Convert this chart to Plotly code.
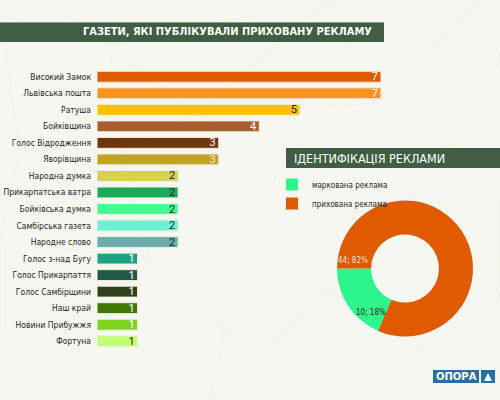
import plotly.graph_objects as go

# --- data ---------------------------------------------------------------
newspapers = ["Високий Замок", "Львівська пошта", "Ратуша", "Бойківщина",
              "Голос Відродження", "Яворівщина", "Народна думка",
              "Прикарпатська ватра", "Бойківська думка", "Самбірська газета",
              "Народне слово", "Голос з-над Бугу", "Голос Прикарпаття",
              "Голос Самбірщини", "Наш край", "Новини Прибужжя", "Фортуна"]
counts = [7, 7, 5, 4, 3, 3, 2, 2, 2, 2, 2, 1, 1, 1, 1, 1, 1]
bar_colors = ["#e05a00", "#ff9220", "#ffc000", "#a85e2c", "#70350b",
              "#c2a224", "#d8d052", "#16aa5a", "#40ff92", "#6af2d2",
              "#6cacac", "#1fa283", "#205848", "#30401a", "#407808",
              "#80d222", "#c2ff72"]
label_colors = ["#ffffff", "#ffffff", "#222222", "#ffffff", "#ffffff",
                "#f4ecd0", "#222222", "#222222", "#222222", "#222222",
                "#222222", "#ffffff", "#ffffff", "#ffffff", "#ffffff",
                "#ffffff", "#222222"]

ad_types = ["маркована реклама", "прихована реклама"]
ad_counts = [10, 44]
ad_pct = ["18%", "82%"]
ad_colors = ["#2cf58c", "#e05a00"]

W, H = 500, 400
NARROW = "DejaVu Sans Condensed, Liberation Sans, sans-serif"


def px(x):
    return x / W


def py(y):
    return 1 - y / H


fig = go.Figure()

fig.add_trace(go.Bar(
    x=counts, y=newspapers, orientation="h",
    marker=dict(color=bar_colors, line=dict(color="#efeedd", width=1)),
    text=counts, texttemplate="%{x}", textposition="inside",
    insidetextanchor="end", textangle=0, constraintext="none",
    textfont=dict(family="Roboto", size=11, color=label_colors),
    width=0.66, showlegend=False, hoverinfo="skip",
))

# green slice runs from 9 o'clock down towards 7 o'clock
fig.add_trace(go.Pie(
    labels=ad_types, values=ad_counts, hole=0.5, sort=False,
    direction="clockwise", rotation=203.3,
    marker=dict(colors=ad_colors), textinfo="none",
    domain=dict(x=[px(337), px(473)], y=[py(337), py(200)]),
))

# pie value labels
for val, pct, xx, yy, col in zip(ad_counts, ad_pct, [371, 353], [312, 260],
                                 ["#12301c", "#f6e2d2"]):
    fig.add_annotation(x=px(xx), y=py(yy), xref="paper", yref="paper",
                       xanchor="center", yanchor="middle",
                       text=f"{val}; {pct}", showarrow=False,
                       font=dict(family=NARROW, size=8, color=col))

# background mesh
nodes = {"A": (0, 15), "B": (45, 0), "C": (110, 45), "D": (20, 150),
         "E": (195, 115), "F": (330, 0), "G": (373, 103), "H": (480, 0),
         "I": (500, 60), "J": (450, 150), "K": (265, 200), "L": (150, 260),
         "M": (0, 240), "N": (40, 400), "O": (210, 400), "P": (225, 330),
         "Q": (330, 290), "R": (420, 350), "S": (500, 300), "T": (460, 400),
         "U": (120, 150), "V": (290, 150), "X": (0, 330), "Y": (500, 200)}
edges = ["AC", "BC", "CU", "CE", "EF", "EG", "FG", "GH", "GJ", "HI", "IJ",
         "GV", "VK", "EU", "UD", "DM", "UK", "KL", "LM", "LN", "LP", "PO",
         "PQ", "KQ", "QR", "RS", "RT", "JS", "QJ", "EV", "MX", "XN", "LU",
         "JY", "YS", "QO", "DA", "CF"]
for e in edges:
    (x0, y0), (x1, y1) = nodes[e[0]], nodes[e[1]]
    fig.add_shape(type="line", xref="paper", yref="paper", layer="below",
                  x0=px(x0), y0=py(y0), x1=px(x1), y1=py(y1),
                  line=dict(color="#eff1e3", width=1.2))

# banners
fig.add_shape(type="rect", xref="paper", yref="paper", layer="above",
              x0=0, x1=px(384), y0=py(42), y1=py(22),
              fillcolor="#3f5e44", line_width=0)
fig.add_shape(type="line", xref="paper", yref="paper",
              x0=0, x1=px(384), y0=py(22.5), y1=py(22.5),
              line=dict(color="#8a9c8a", width=1))
fig.add_annotation(x=px(374), y=py(32), xref="paper", yref="paper",
                   xanchor="right", yanchor="middle", showarrow=False,
                   text="ГАЗЕТИ, ЯКІ ПУБЛІКУВАЛИ ПРИХОВАНУ РЕКЛАМУ",
                   font=dict(family=NARROW, size=11, color="#ffffff",
                             weight="bold"))
fig.add_shape(type="rect", xref="paper", yref="paper",
              x0=px(286), x1=1, y0=py(168), y1=py(148),
              fillcolor="#3f5e44", line_width=0)
fig.add_annotation(x=px(292), y=py(158), xref="paper", yref="paper",
                   xanchor="left", yanchor="middle", showarrow=False,
                   text="ІДЕНТИФІКАЦІЯ РЕКЛАМИ",
                   font=dict(family=NARROW, size=12.5, color="#ffffff"))

# logo
fig.add_shape(type="rect", xref="paper", yref="paper",
              x0=px(433), x1=px(479), y0=py(383), y1=py(370),
              fillcolor="#2a6ea6", line_width=0)
fig.add_shape(type="rect", xref="paper", yref="paper",
              x0=px(481), x1=px(495), y0=py(383), y1=py(370),
              fillcolor="#2a6ea6", line_width=0)
fig.add_shape(type="path", xref="paper", yref="paper",
              path=f"M {px(484)} {py(381)} L {px(492)} {py(381)} L {px(488)} {py(373)} Z",
              fillcolor="#ffffff", line_width=0)
fig.add_annotation(x=px(456), y=py(376.5), xref="paper", yref="paper",
                   xanchor="center", yanchor="middle",
                   showarrow=False, text="ОПОРА",
                   font=dict(family="DejaVu Sans", size=10, color="#ffffff",
                             weight="bold"))

fig.update_layout(
    width=W, height=H, margin=dict(l=0, r=0, t=0, b=0),
    paper_bgcolor="#f7f7f2", plot_bgcolor="rgba(0,0,0,0)",
    xaxis=dict(domain=[px(97), px(381)], range=[0, 7], visible=False,
               fixedrange=True),
    yaxis=dict(domain=[py(349.5), py(68.5)], autorange="reversed",
               categoryorder="array", categoryarray=newspapers,
               showgrid=False, showline=False, ticks="", ticklabelstandoff=5,
               tickfont=dict(family=NARROW, size=8.5, color="#1e1e1e"),
               automargin=False),
    legend=dict(x=px(272), y=py(170), xanchor="left", yanchor="top",
                bgcolor="rgba(0,0,0,0)",
                font=dict(family=NARROW, size=8, color="#262626")),
    bargap=0.34,
)

fig.write_html("out.html", config={"displayModeBar": False},
               post_script="document.body.style.margin='0';")
